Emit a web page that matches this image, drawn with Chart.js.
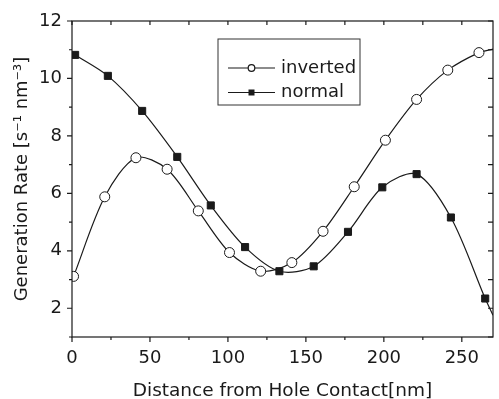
<!DOCTYPE html>
<html>
<head>
<meta charset="utf-8">
<script src="https://cdn.jsdelivr.net/npm/chart.js@4.4.0/dist/chart.umd.min.js"></script>
<style>
  html, body { margin: 0; padding: 0; background: #fff; }
  #wrap { width: 499px; height: 399px; }
</style>
</head>
<body>
<div id="wrap"><canvas id="genChart" width="499" height="399"></canvas></div>
<script>
// values
const invertedX = [1, 21, 41, 61, 81, 101, 121, 141, 161, 181, 201, 221, 241, 261, 270];
const invertedY = [3.11, 5.88, 7.24, 6.84, 5.39, 3.94, 3.29, 3.59, 4.68, 6.23, 7.85, 9.27, 10.29, 10.9, 11.02];
const normalX = [2, 23, 45, 67.5, 89, 111, 133, 155, 177, 199, 221, 243, 265, 270];
const normalY = [10.82, 10.09, 8.87, 7.27, 5.58, 4.13, 3.29, 3.46, 4.66, 6.21, 6.67, 5.16, 2.34, 1.76];
// last point of each series is only the end of the curve at the frame, no marker
const xTicks = [0, 50, 100, 150, 200, 250];
const yTicks = [2, 4, 6, 8, 10, 12];
const xMinorStep = 25;
const yMinorStep = 1;

const FONT = 'DejaVu Sans';
const INK = '#1a1a1a';

function toPoints(xs, ys) {
    return xs.map((x, i) => ({ x: x, y: ys[i] }));
}

function markerRadius(xs, r) {
    return xs.map((x, i) => (i === xs.length - 1 ? 0 : r));
}

// frame, mirrored ticks and the boxed legend
const framePlugin = {
    id: 'frame',
    afterDatasetsDraw(chart) {
        const ctx = chart.ctx;
        const a = chart.chartArea;
        const xs = chart.scales.x;
        const ys = chart.scales.y;
        ctx.save();
        ctx.strokeStyle = INK;
        ctx.lineWidth = 1.2;
        ctx.strokeRect(a.left, a.top, a.right - a.left, a.bottom - a.top);

        ctx.beginPath();
        for (let v = xs.min; v <= xs.max; v += xMinorStep) {
            const px = xs.getPixelForValue(v);
            const major = xTicks.includes(v);
            ctx.moveTo(px, a.bottom);
            ctx.lineTo(px, a.bottom + (major ? 5 : 3));
            ctx.moveTo(px, a.top);
            ctx.lineTo(px, a.top + 4);
        }
        for (let v = ys.min; v <= ys.max; v += yMinorStep) {
            const py = ys.getPixelForValue(v);
            const major = yTicks.includes(v);
            ctx.moveTo(a.left, py);
            ctx.lineTo(a.left - (major ? 5 : 3), py);
            ctx.moveTo(a.right, py);
            ctx.lineTo(a.right - 5, py);
        }
        ctx.stroke();
        ctx.restore();
    },
    afterDraw(chart) {
        const ctx = chart.ctx;
        const box = { x: 218, y: 39, w: 142, h: 66 };
        ctx.save();
        ctx.fillStyle = '#fff';
        ctx.fillRect(box.x, box.y, box.w, box.h);
        ctx.strokeStyle = '#333';
        ctx.lineWidth = 1;
        ctx.strokeRect(box.x, box.y, box.w, box.h);

        const rows = [68, 92.5];
        chart.data.datasets.forEach((ds, i) => {
            const y = rows[i];
            ctx.strokeStyle = INK;
            ctx.lineWidth = 1.2;
            ctx.beginPath();
            ctx.moveTo(228, y);
            ctx.lineTo(275, y);
            ctx.stroke();
            if (ds.pointStyle === 'circle') {
                ctx.beginPath();
                ctx.arc(251.5, y, 3.3, 0, Math.PI * 2);
                ctx.fillStyle = '#fff';
                ctx.fill();
                ctx.stroke();
            } else {
                ctx.fillStyle = INK;
                ctx.fillRect(248.5, y - 3, 6, 6);
            }
            ctx.fillStyle = INK;
            ctx.font = '18px "' + FONT + '"';
            ctx.textBaseline = 'middle';
            ctx.textAlign = 'left';
            ctx.fillText(ds.label, 281, y);
        });
        ctx.restore();
    }
};

function renderChart() {
    const ctx = document.getElementById('genChart').getContext('2d');
    new Chart(ctx, {
        type: 'line',
        data: {
            datasets: [
                {
                    label: 'inverted',
                    data: toPoints(invertedX, invertedY),
                    borderColor: INK,
                    borderWidth: 1.2,
                    tension: 0.3,
                    pointStyle: 'circle',
                    pointRadius: markerRadius(invertedX, 5),
                    pointBackgroundColor: '#fff',
                    pointBorderColor: INK,
                    pointBorderWidth: 1,
                    fill: false
                },
                {
                    label: 'normal',
                    data: toPoints(normalX, normalY),
                    borderColor: INK,
                    borderWidth: 1.2,
                    tension: 0.3,
                    pointStyle: 'rect',
                    pointRadius: markerRadius(normalX, 5),
                    pointBackgroundColor: INK,
                    pointBorderColor: INK,
                    pointBorderWidth: 1,
                    fill: false
                }
            ]
        },
        options: {
            responsive: false,
            animation: false,
            layout: { padding: { top: 21, right: 1, left: 0, bottom: 0 } },
            plugins: {
                legend: { display: false },
                tooltip: { enabled: false }
            },
            scales: {
                x: {
                    type: 'linear',
                    min: 0,
                    max: 270,
                    grid: { display: false, drawTicks: false },
                    border: { display: false },
                    afterBuildTicks: (scale) => { scale.ticks = xTicks.map(v => ({ value: v })); },
                    afterFit: (scale) => { scale.height = 62; },
                    ticks: {
                        padding: 11,
                        color: INK,
                        font: { family: FONT, size: 18 },
                        maxRotation: 0
                    },
                    title: {
                        display: true,
                        text: 'Distance from Hole Contact[nm]',
                        color: INK,
                        font: { family: FONT, size: 18.5 },
                        padding: { top: 0, bottom: -3 }
                    }
                },
                y: {
                    min: 1,
                    max: 12,
                    grid: { display: false, drawTicks: false },
                    border: { display: false },
                    afterBuildTicks: (scale) => { scale.ticks = yTicks.map(v => ({ value: v })); },
                    afterFit: (scale) => { scale.width = 72; },
                    ticks: {
                        padding: 10,
                        color: INK,
                        font: { family: FONT, size: 18 }
                    },
                    title: {
                        display: true,
                        text: 'Generation Rate [s\u207B\u00B9 nm\u207B\u00B3]',
                        color: INK,
                        font: { family: FONT, size: 18 },
                        padding: { top: 12, bottom: 0 }
                    }
                }
            }
        },
        plugins: [framePlugin]
    });
}

document.addEventListener('DOMContentLoaded', renderChart);
</script>
</body>
</html>
